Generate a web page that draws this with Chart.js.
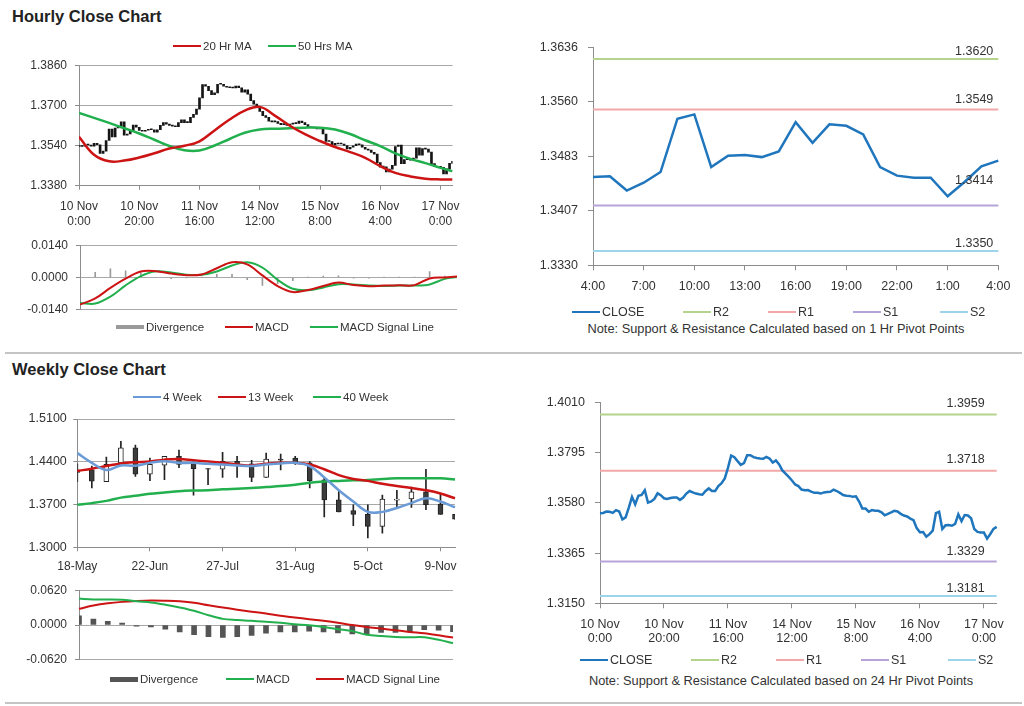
<!DOCTYPE html>
<html>
<head>
<meta charset="utf-8">
<title>Hourly and Weekly Close Charts</title>
<script src="https://cdn.jsdelivr.net/npm/chart.js@4.4.1/dist/chart.umd.min.js"></script>
<style>
  body { margin: 0; width: 1024px; height: 706px; position: relative; overflow: hidden; background: #fff;
         font-family: "Liberation Sans", Arial, sans-serif; color: #333; }
  canvas { position: absolute; }
  .title { position: absolute; left: 12px; font-size: 16.5px; font-weight: bold; color: #222; line-height: 20px; }
  .sep { position: absolute; left: 5px; width: 1017px; height: 2px; background: #c4c4c4; }
  .lg { position: absolute; height: 20px; display: flex; align-items: center; white-space: nowrap; }
  .sw { display: inline-block; width: 28px; margin-right: 2px; }
  .note { position: absolute; white-space: nowrap; transform: translateX(-50%); font-size: 12.8px; line-height: 16px; }
</style>
</head>
<body>
<div class="title" style="top:6px">Hourly Close Chart</div>
<div class="sep" style="top:352px"></div>
<div class="title" style="top:359px">Weekly Close Chart</div>
<div class="sep" style="top:702px"></div>

<canvas id="hourCandles" width="470" height="180" style="left:0;top:50px"></canvas>
<canvas id="hourMacd" width="470" height="95" style="left:0;top:230px"></canvas>
<canvas id="hourPivot" width="504" height="270" style="left:520px;top:30px"></canvas>
<canvas id="weekCandles" width="470" height="175" style="left:0;top:405px"></canvas>
<canvas id="weekMacd" width="470" height="100" style="left:0;top:575px"></canvas>
<canvas id="dayPivot" width="504" height="270" style="left:520px;top:385px"></canvas>

<div class="note" style="left:776px;top:321px">Note: Support &amp; Resistance Calculated based on 1 Hr Pivot Points</div>
<div class="note" style="left:781px;top:673px">Note: Support &amp; Resistance Calculated based on 24 Hr Pivot Points</div>

<script>
// === Hourly data: 10 Nov 0:00 .. 17 Nov 4:00 (125 hours) ===
const hourTicks = [["10 Nov", "0:00"], ["10 Nov", "20:00"], ["11 Nov", "16:00"], ["14 Nov", "12:00"],
                   ["15 Nov", "8:00"], ["16 Nov", "4:00"], ["17 Nov", "0:00"]];
const hourTickAt = [0, 20, 40, 60, 80, 100, 120];

const hourClose = [
  1.3536, 1.3537, 1.3543, 1.3542, 1.3537, 1.3549, 1.3543, 1.3509, 1.3518, 1.3560,
  1.3606, 1.3574, 1.3610, 1.3614, 1.3634, 1.3581, 1.3586, 1.3597, 1.3621, 1.3613,
  1.3600, 1.3597, 1.3601, 1.3603, 1.3603, 1.3593, 1.3603, 1.3620, 1.3631, 1.3625,
  1.3620, 1.3617, 1.3615, 1.3631, 1.3642, 1.3631, 1.3631, 1.3652, 1.3664, 1.3685,
  1.3730, 1.3783, 1.3776, 1.3759, 1.3743, 1.3750, 1.3784, 1.3784, 1.3776, 1.3772,
  1.3770, 1.3769, 1.3777, 1.3770, 1.3753, 1.3762, 1.3745, 1.3719, 1.3705, 1.3691,
  1.3676, 1.3659, 1.3652, 1.3637, 1.3634, 1.3635, 1.3628, 1.3623, 1.3623, 1.3620,
  1.3625, 1.3627, 1.3628, 1.3637, 1.3631, 1.3623, 1.3614, 1.3611, 1.3610, 1.3606,
  1.3608, 1.3586, 1.3556, 1.3556, 1.3542, 1.3549, 1.3546, 1.3546, 1.3540, 1.3527,
  1.3533, 1.3539, 1.3546, 1.3543, 1.3533, 1.3526, 1.3522, 1.3513, 1.3506, 1.3472,
  1.3454, 1.3455, 1.3435, 1.3446, 1.3461, 1.3536, 1.3542, 1.3468, 1.3484, 1.3485,
  1.3482, 1.3490, 1.3531, 1.3502, 1.3528, 1.3526, 1.3514, 1.3468, 1.3456, 1.3453,
  1.3453, 1.3427, 1.3447, 1.3469, 1.3477
];

// moving averages and MACD, read every 5 hours
const maHours = [0, 5, 10, 15, 20, 25, 30, 35, 40, 45, 50, 55, 60, 65, 70, 75, 80, 85, 90, 95, 100, 105, 110, 115, 120, 124];
const ma20 = [1.3575, 1.3503, 1.3477, 1.3480, 1.3492, 1.3509, 1.3528, 1.3539, 1.3557, 1.3600, 1.3644, 1.3679, 1.3694,
              1.3659, 1.3619, 1.3585, 1.3558, 1.3534, 1.3514, 1.3491, 1.3458, 1.3431, 1.3417, 1.3408, 1.3405, 1.3405];
const ma50 = [1.3670, 1.3650, 1.3630, 1.3609, 1.3588, 1.3563, 1.3538, 1.3521, 1.3520, 1.3540, 1.3566, 1.3591, 1.3604,
              1.3607, 1.3609, 1.3611, 1.3611, 1.3604, 1.3586, 1.3561, 1.3538, 1.3509, 1.3487, 1.3470, 1.3451, 1.3438];
const macdHour = [-0.0117, -0.0091, -0.0045, -0.0005, 0.0026, 0.0027, 0.0017, 0.0010, 0.0013, 0.0040, 0.0066, 0.0057, 0.0009,
                  -0.0037, -0.0063, -0.0054, -0.0037, -0.0022, -0.0033, -0.0038, -0.0035, -0.0034, -0.0033, -0.0004, 0.0000, 0.0004];
const signalHour = [-0.0110, -0.0113, -0.0083, -0.0034, 0.0006, 0.0027, 0.0022, 0.0012, 0.0012, 0.0026, 0.0052, 0.0066, 0.0043,
                    -0.0010, -0.0049, -0.0055, -0.0043, -0.0029, -0.0030, -0.0035, -0.0037, -0.0035, -0.0035, -0.0030, -0.0006, 0.0002];

// last 24 hours (16 Nov 4:00 .. 17 Nov 4:00)
const lastDayHours = ["4:00", "5:00", "6:00", "7:00", "8:00", "9:00", "10:00", "11:00", "12:00", "13:00", "14:00", "15:00",
                      "16:00", "17:00", "18:00", "19:00", "20:00", "21:00", "22:00", "23:00", "0:00", "1:00", "2:00", "3:00", "4:00"];
const levelNames = ["R2", "R1", "S1", "S2"];
const hourLevels = [1.3620, 1.3549, 1.3414, 1.3350];
const dayLevels = [1.3959, 1.3718, 1.3329, 1.3181];

// === Weekly data ===
const weekLabels = ["18-May", "25-May", "1-Jun", "8-Jun", "15-Jun", "22-Jun", "29-Jun", "6-Jul", "13-Jul", "20-Jul",
                    "27-Jul", "3-Aug", "10-Aug", "17-Aug", "24-Aug", "31-Aug", "7-Sep", "14-Sep", "21-Sep", "28-Sep",
                    "5-Oct", "12-Oct", "19-Oct", "26-Oct", "2-Nov", "9-Nov", "16-Nov"];
const weekOpen  = [1.4266, 1.4266, 1.4076, 1.4382, 1.4630, 1.4198, 1.4345, 1.4488, 1.4372, 1.4287, 1.4277, 1.4409, 1.4367, 1.4145,
                   1.4446, 1.4462, 1.4382, 1.4103, 1.3776, 1.3601, 1.3538, 1.3343, 1.3770, 1.3791, 1.3907, 1.3707, 1.3538];
const weekHigh  = [1.4367, 1.4330, 1.4477, 1.4736, 1.4672, 1.4461, 1.4488, 1.4593, 1.4403, 1.4287, 1.4556, 1.4488, 1.4425, 1.4541,
                   1.4525, 1.4488, 1.4403, 1.4145, 1.3934, 1.3696, 1.3696, 1.3855, 1.3934, 1.3987, 1.4277, 1.3881, 1.3538];
const weekLow   = [1.4076, 1.3971, 1.4076, 1.4382, 1.4161, 1.4092, 1.4108, 1.4303, 1.3855, 1.4024, 1.4145, 1.4145, 1.4076, 1.4145,
                   1.4266, 1.4356, 1.3971, 1.3496, 1.3580, 1.3353, 1.3153, 1.3232, 1.3654, 1.3654, 1.3617, 1.3538, 1.3459];
const weekClose = [1.4224, 1.4082, 1.4356, 1.4630, 1.4198, 1.4356, 1.4488, 1.4356, 1.4287, 1.4277, 1.4409, 1.4356, 1.4145, 1.4446,
                   1.4425, 1.4393, 1.4092, 1.3776, 1.3580, 1.3538, 1.3343, 1.3791, 1.3791, 1.3907, 1.3696, 1.3538, 1.3459];
const ma4wk  = [1.4541, 1.4382, 1.4266, 1.4340, 1.4335, 1.4382, 1.4409, 1.4382, 1.4382, 1.4366, 1.4356, 1.4340, 1.4330, 1.4356,
                1.4372, 1.4382, 1.4330, 1.4145, 1.3934, 1.3749, 1.3580, 1.3580, 1.3644, 1.3723, 1.3802, 1.3749, 1.3654];
const ma13wk = [1.4250, 1.4287, 1.4330, 1.4372, 1.4393, 1.4403, 1.4435, 1.4446, 1.4425, 1.4403, 1.4382, 1.4356, 1.4340, 1.4366,
                1.4382, 1.4382, 1.4356, 1.4277, 1.4182, 1.4119, 1.4087, 1.4039, 1.4002, 1.3971, 1.3934, 1.3881, 1.3802];
const ma40wk = [1.3696, 1.3723, 1.3760, 1.3813, 1.3844, 1.3876, 1.3897, 1.3918, 1.3929, 1.3934, 1.3950, 1.3960, 1.3971, 1.3987,
                1.4002, 1.4024, 1.4055, 1.4076, 1.4087, 1.4097, 1.4103, 1.4119, 1.4129, 1.4129, 1.4129, 1.4129, 1.4108];
const macdWeek = [0.0471, 0.0456, 0.0456, 0.0451, 0.0422, 0.0402, 0.0362, 0.0312, 0.0253, 0.0174, 0.0109, 0.0089, 0.0074, 0.0060,
                  0.0040, 0.0015, -0.0005, -0.0035, -0.0074, -0.0109, -0.0174, -0.0198, -0.0213, -0.0218, -0.0218, -0.0263, -0.0322];
const signalWeek = [0.0288, 0.0347, 0.0387, 0.0412, 0.0427, 0.0436, 0.0432, 0.0422, 0.0397, 0.0352, 0.0312, 0.0273, 0.0238, 0.0203,
                    0.0164, 0.0134, 0.0104, 0.0074, 0.0040, 0.0000, -0.0035, -0.0064, -0.0094, -0.0124, -0.0149, -0.0184, -0.0223];
const divWeek = [0.0164, 0.0104, 0.0064, 0.0035, -0.0020, -0.0035, -0.0074, -0.0124, -0.0174, -0.0208, -0.0223, -0.0208, -0.0184, -0.0144,
                 -0.0124, -0.0124, -0.0109, -0.0124, -0.0139, -0.0159, -0.0159, -0.0134, -0.0134, -0.0124, -0.0084, -0.0094, -0.0119];

// === Styling ===
const AXIS = "#8c8c8c", GRID = "#a8a8a8";
const RED = "#cc1414", GREEN = "#22b04e", BLUE4 = "#6b9bd6", CLOSE = "#1f76bd";
const levelColors = ["#b4d48c", "#f2a8a8", "#b6a4d8", "#9cd5ea"];

Chart.defaults.font.family = '"Liberation Sans", Arial, sans-serif';
Chart.defaults.color = "#333";
Chart.defaults.animation = false;
Chart.defaults.plugins.legend.display = false;
Chart.defaults.plugins.tooltip.enabled = false;
Chart.defaults.elements.point.radius = 0;

function valueAxis(min, max, ticks, width, opts = {}) {
  return {
    min, max, beginAtZero: false,
    afterBuildTicks: (s) => { s.ticks = ticks.map((v) => ({ value: v })); },
    afterFit: (s) => { s.width = width; },
    ticks: { callback: (v) => v.toFixed(4), padding: opts.pad ?? 8, font: { size: opts.size ?? 12 } },
    grid: { drawOnChartArea: opts.grid !== false, color: GRID, tickColor: AXIS, tickLength: opts.tick ?? 4 },
    border: { color: AXIS },
  };
}

function indexAxis(type, at, labelOf, height, opts = {}) {
  const axis = {
    type, offset: false,
    afterBuildTicks: (s) => { s.ticks = at.map((v) => ({ value: v })); },
    afterFit: (s) => { s.height = height; },
    ticks: { autoSkip: false, maxRotation: 0, callback: (v) => labelOf(v), padding: opts.pad ?? 10,
             font: { size: opts.size ?? 12, lineHeight: opts.lh ?? 1.2 } },
    grid: { drawOnChartArea: false, offset: false, color: AXIS, tickLength: opts.tick ?? 4 },
    border: { color: AXIS },
  };
  if (opts.display === false) axis.display = false;
  if (type === "linear") { axis.min = opts.min; axis.max = opts.max; }
  return axis;
}

// value tags printed above each pivot level line
const levelTags = {
  id: "levelTags",
  afterDatasetsDraw(chart) {
    const { ctx, chartArea } = chart;
    const y = chart.scales.y;
    ctx.save();
    ctx.font = '12.5px "Liberation Sans", Arial, sans-serif';
    ctx.fillStyle = "#333";
    ctx.textAlign = "right";
    ctx.textBaseline = "middle";
    chart.data.datasets.forEach((ds) => {
      if (ds.tag == null) return;
      ctx.fillText(ds.tag.toFixed(4), chartArea.right - ds.tagRight, y.getPixelForValue(ds.tag) - ds.tagLift);
    });
    ctx.restore();
  },
};

function addLegend(items, y, size) {
  items.forEach((it) => {
    const el = document.createElement("div");
    el.className = "lg";
    el.style.cssText = `left:${it.x}px;top:${y - 10}px;font-size:${size}px`;
    const sw = document.createElement("span");
    sw.className = "sw";
    sw.style.background = it.color;
    sw.style.height = (it.h || 2) + "px";
    el.appendChild(sw);
    el.appendChild(document.createTextNode(it.text));
    document.body.appendChild(el);
  });
}

// === Hourly candles with MAs ===
const atHours = (vals) => maHours.map((h, k) => ({ x: h, y: vals[k] }));

new Chart(document.getElementById("hourCandles"), {
  type: "bar",
  data: {
    datasets: [
      { type: "line", label: "20 Hr MA", data: atHours(ma20), borderColor: RED, borderWidth: 2.5, tension: 0.4, order: 0 },
      { type: "line", label: "50 Hrs MA", data: atHours(ma50), borderColor: GREEN, borderWidth: 2.5, tension: 0.4, order: 0 },
      {
        label: "Candles",
        data: hourClose.map((c, i) => ({ x: i, y: [i ? hourClose[i - 1] : c, c] })),
        backgroundColor: "#151515", barThickness: 2, minBarLength: 1, order: 1,
      },
    ],
  },
  options: {
    responsive: false,
    layout: { padding: { left: 0, right: 15, top: 9, bottom: 0 } },
    scales: {
      x: indexAxis("linear", hourTickAt, (v) => hourTicks[hourTickAt.indexOf(v)], 44.3, { min: 0, max: 124, size: 12 }),
      y: valueAxis(1.3380, 1.3860, [1.3380, 1.3540, 1.3700, 1.3860], 79),
    },
  },
});
addLegend([{ text: "20 Hr MA", color: RED, x: 173 }, { text: "50 Hrs MA", color: GREEN, x: 268 }], 46, 11.5);

// === Hourly MACD ===
new Chart(document.getElementById("hourMacd"), {
  type: "bar",
  data: {
    datasets: [
      { type: "line", label: "MACD", data: atHours(macdHour), borderColor: RED, borderWidth: 2, tension: 0.35, order: 0 },
      { type: "line", label: "MACD Signal Line", data: atHours(signalHour), borderColor: GREEN, borderWidth: 2, tension: 0.35, order: 0 },
      {
        label: "Divergence",
        data: maHours.map((h, k) => ({ x: h, y: macdHour[k] - signalHour[k] })),
        backgroundColor: "#9a9a9a", barThickness: 1, order: 1,
      },
    ],
  },
  options: {
    responsive: false,
    layout: { padding: { left: 0, right: 13, top: 9, bottom: 9.3 } },
    scales: {
      x: indexAxis("linear", hourTickAt, () => "", 0, { min: 0, max: 124, display: false }),
      y: valueAxis(-0.014, 0.014, [-0.014, 0, 0.014], 80),
    },
  },
});
addLegend([
  { text: "Divergence", color: "#9a9a9a", x: 116, h: 4 },
  { text: "MACD", color: RED, x: 225 },
  { text: "MACD Signal Line", color: GREEN, x: 310 },
], 327, 11.5);

// === Pivot charts ===
function pivotDatasets(close, labels, levels, lifts, right) {
  const sets = [{ label: "CLOSE", data: close, borderColor: CLOSE, borderWidth: 2.5, tension: 0, order: 0 }];
  levels.forEach((lv, k) => {
    sets.push({
      label: levelNames[k], data: labels.map(() => lv), borderColor: levelColors[k], borderWidth: 2,
      order: 1, tag: lv, tagLift: lifts[k], tagRight: right,
    });
  });
  return sets;
}

const lastDayClose = hourClose.slice(100);
new Chart(document.getElementById("hourPivot"), {
  type: "line",
  data: { labels: lastDayHours, datasets: pivotDatasets(lastDayClose, lastDayHours, hourLevels, [7, 10, 25, 8], 5) },
  options: {
    responsive: false,
    layout: { padding: { left: 0, right: 25.7, top: 17.3, bottom: 0 } },
    scales: {
      x: indexAxis("category", [0, 3, 6, 9, 12, 15, 18, 21, 24], (v) => lastDayHours[v], 34.7, { size: 12.5, tick: 5, pad: 9 }),
      y: valueAxis(1.3330, 1.3636, [1.3330, 1.3407, 1.3483, 1.3560, 1.3636], 73, { grid: false, size: 12.5, tick: 5, pad: 10 }),
    },
  },
  plugins: [levelTags],
});

const hourIndex = hourClose.map((_, i) => i);
new Chart(document.getElementById("dayPivot"), {
  type: "line",
  data: { labels: hourIndex, datasets: pivotDatasets(hourClose, hourIndex, dayLevels, [11, 11, 10, 8], 12) },
  options: {
    responsive: false,
    layout: { padding: { left: 0, right: 27.3, top: 16, bottom: 0 } },
    scales: {
      x: indexAxis("category", hourTickAt, (v) => hourTicks[hourTickAt.indexOf(v)], 51.7, { size: 12.5, tick: 5, pad: 9, lh: 1.12 }),
      y: valueAxis(1.3150, 1.4010, [1.3150, 1.3365, 1.3580, 1.3795, 1.4010], 80, { grid: false, size: 12.5, tick: 5, pad: 10 }),
    },
  },
  plugins: [levelTags],
});

const pivotLegend = (x0) => [
  { text: "CLOSE", color: CLOSE, x: x0 },
  ...levelNames.map((n, k) => ({ text: n, color: levelColors[k], x: x0 + [111, 196, 281, 368][k] })),
];
addLegend(pivotLegend(572), 312, 12.5);
addLegend(pivotLegend(580), 660, 12.5);

// === Weekly candles with MAs ===
const weekTickAt = [0, 5, 10, 15, 20, 25];
new Chart(document.getElementById("weekCandles"), {
  type: "bar",
  data: {
    labels: weekLabels,
    datasets: [
      { type: "line", label: "4 Week", data: ma4wk, borderColor: BLUE4, borderWidth: 2.5, tension: 0.4, order: 0 },
      { type: "line", label: "13 Week", data: ma13wk, borderColor: RED, borderWidth: 2.5, tension: 0.4, order: 0 },
      { type: "line", label: "40 Week", data: ma40wk, borderColor: GREEN, borderWidth: 2.5, tension: 0.4, order: 0 },
      {
        label: "Body", data: weekOpen.map((o, k) => [o, weekClose[k]]),
        backgroundColor: weekOpen.map((o, k) => (weekClose[k] >= o ? "#ffffff" : "#3c3c3c")),
        borderColor: "#222", borderWidth: 1, borderSkipped: false, barThickness: 5, grouped: false, order: 1,
      },
      {
        label: "Wick", data: weekLow.map((l, k) => [l, weekHigh[k]]),
        backgroundColor: "#222", barThickness: 1, grouped: false, order: 2,
      },
    ],
  },
  options: {
    responsive: false,
    layout: { padding: { left: 0, right: 15, top: 9.7, bottom: 0 } },
    scales: {
      x: indexAxis("category", weekTickAt, (v) => weekLabels[v], 32.7, { size: 12, pad: 8 }),
      y: valueAxis(1.3000, 1.5100, [1.3000, 1.3700, 1.4400, 1.5100], 77.3, { size: 12.5, pad: 6.5 }),
    },
  },
});
addLegend([
  { text: "4 Week", color: BLUE4, x: 133 },
  { text: "13 Week", color: RED, x: 218 },
  { text: "40 Week", color: GREEN, x: 313 },
], 397, 11.5);

// === Weekly MACD ===
new Chart(document.getElementById("weekMacd"), {
  type: "bar",
  data: {
    labels: weekLabels,
    datasets: [
      { type: "line", label: "MACD", data: macdWeek, borderColor: GREEN, borderWidth: 2, tension: 0.35, order: 0 },
      { type: "line", label: "MACD Signal Line", data: signalWeek, borderColor: RED, borderWidth: 2, tension: 0.35, order: 0 },
      { label: "Divergence", data: divWeek, backgroundColor: "#555", barThickness: 5, order: 1 },
    ],
  },
  options: {
    responsive: false,
    layout: { padding: { left: 0, right: 17, top: 10, bottom: 6.7 } },
    scales: {
      x: indexAxis("category", weekTickAt, () => "", 0, { display: false }),
      y: valueAxis(-0.062, 0.062, [-0.062, 0, 0.062], 79, { pad: 8 }),
    },
  },
});
addLegend([
  { text: "Divergence", color: "#555", x: 110, h: 5 },
  { text: "MACD", color: GREEN, x: 226 },
  { text: "MACD Signal Line", color: RED, x: 316 },
], 679, 11.5);
</script>
</body>
</html>
